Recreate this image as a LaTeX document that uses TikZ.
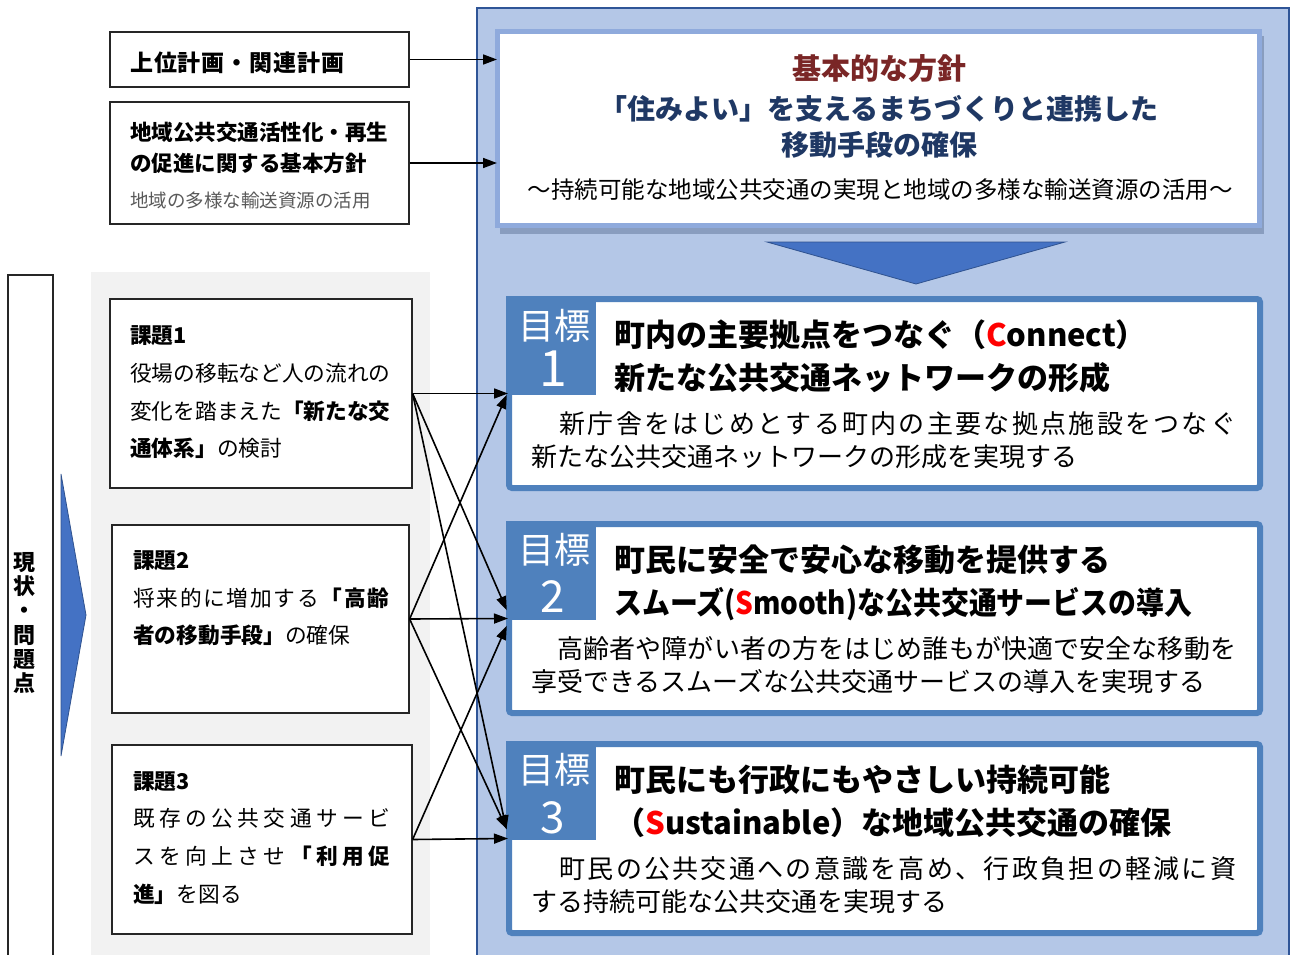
\documentclass[tikz,border=0pt]{standalone}
\usepackage{fontspec}
\setmainfont{Noto Sans CJK JP}
\usetikzlibrary{arrows.meta}
\definecolor{panelfill}{RGB}{180,199,231}
\definecolor{panelline}{RGB}{47,85,151}
\definecolor{goalblue}{RGB}{79,129,189}
\definecolor{polline}{RGB}{143,170,220}
\definecolor{shadowc}{RGB}{120,140,175}
\definecolor{triblue}{RGB}{68,114,196}
\definecolor{triline}{RGB}{47,82,143}
\definecolor{bggray}{RGB}{242,242,242}
\definecolor{maroon}{RGB}{122,38,38}
\definecolor{navy}{RGB}{31,56,100}
\definecolor{subgray}{RGB}{89,89,89}
\newcommand\fs[1]{\fontsize{#1}{#1}\selectfont}
\newcommand\fsb[2]{\fontsize{#1}{#2}\selectfont}
\makeatletter
\def\jl@loop#1{%
  \ifx#1\relax \let\jl@next\relax
  \else
    \ifx#1\bfseries \bfseries \else \jl@sep #1\let\jl@sep\hfil \fi
    \let\jl@next\jl@loop
  \fi
  \jl@next}
\newcommand\jl[2]{\makebox[#1pt][s]{\let\jl@sep\relax\jl@loop#2\relax}}
\makeatother
\begin{document}
\begin{tikzpicture}[x=1pt,y=-1pt,
  box/.style={draw=black!85, line width=1.2pt, fill=white, inner sep=0},
  goal/.style={draw=goalblue, line width=6pt, fill=white, rounded corners=3pt, inner sep=0, minimum width=751pt, minimum height=189pt},
  txt/.style={anchor=base west, inner sep=0},
  ctxt/.style={anchor=base, inner sep=0},
  tabtxt/.style={anchor=base, inner sep=0, text=white},
  arr/.style={-{Triangle[length=14pt,width=10pt]}, line width=1.6pt, shorten >=-2pt},
  tri/.style={fill=triblue, draw=triline, line width=0.8pt}
]
\useasboundingbox (0,0) rectangle (1293,955);
\clip (0,0) rectangle (1293,955);

% background panel
\draw[fill=panelfill, draw=panelline, line width=2.5pt] (477,8) rectangle (1289,980);
% gray background for issues
\fill[bggray] (91,272) rectangle (430,980);
% left vertical box
\draw[black!85, line width=1.2pt, fill=white] (8,275) rectangle (53,980);
\node[inner sep=0, align=center, font=\fsb{22}{24.2}\bfseries] (status) at (24.5,623) {現\\状\\・\\問\\題\\点};
% right-pointing triangle
\draw[tri] (61,474) -- (86,615) -- (61,756) -- cycle;

% top-left boxes
\node[box, minimum width=299pt, minimum height=55pt] (plan) at (259.5,59.5) {};
\node[txt, font=\fs{23}\bfseries] (plant) at (130,71.7) {\jl{214}{上位計画・関連計画}};
\node[box, minimum width=299pt, minimum height=122pt] (basic) at (259.5,163) {};
\node[txt, font=\fs{21.5}\bfseries] (basica) at (130,140.2) {地域公共交通活性化・再生};
\node[txt, font=\fs{21.5}\bfseries] (basicb) at (130,171.2) {の促進に関する基本方針};
\node[txt, font=\fs{18.5}, text=subgray] (basicc) at (130,207) {地域の多様な輸送資源の活用};

% policy box
\fill[shadowc, opacity=0.7] (500,36) rectangle (1264,234);
\node[draw=polline, line width=5pt, fill=white, inner sep=0, minimum width=762pt, minimum height=193pt] (policy) at (878.5,128.5) {};
\node[ctxt, font=\fs{29}\bfseries, text=maroon] (pola) at (879,80) {基本的な方針};
\node[ctxt, font=\fs{28}\bfseries, text=navy] (polb) at (879,119.6) {「住みよい」を支えるまちづくりと連携した};
\node[ctxt, font=\fs{28}\bfseries, text=navy] (polc) at (879,155.6) {移動手段の確保};
\node[ctxt, font=\fs{23.5}] (pold) at (880,198) {～持続可能な地域公共交通の実現と地域の多様な輸送資源の活用～};

% down triangle
\draw[tri] (767,242) -- (1065,242) -- (916,284) -- cycle;

% issue boxes
\node[box, minimum width=302pt, minimum height=189pt] (issue1) at (261,393.5) {};
\node[txt, font=\fs{21.7}\bfseries] (i1a) at (130,343.3) {課題1};
\node[txt, font=\fs{21.7}] (i1b) at (130,381.3) {\jl{260}{役場の移転など人の流れの}};
\node[txt, font=\fs{21.7}] (i1c) at (130,419.3) {\jl{260}{変化を踏まえた\bfseries 「新たな交}};
\node[txt, font=\fs{21.7}] (i1d) at (130,456.3) {{\bfseries 通体系」}の検討};

\node[box, minimum width=297pt, minimum height=188pt] (issue2) at (260.5,619) {};
\node[txt, font=\fs{21.7}\bfseries] (i2a) at (133,568.3) {課題2};
\node[txt, font=\fs{21.7}] (i2b) at (133,606.3) {\jl{256}{将来的に増加する\bfseries 「高齢}};
\node[txt, font=\fs{21.7}] (i2c) at (133,643.3) {{\bfseries 者の移動手段」}の確保};

\node[box, minimum width=300pt, minimum height=189pt] (issue3) at (262,839.5) {};
\node[txt, font=\fs{21.7}\bfseries] (i3a) at (133,789.3) {課題3};
\node[txt, font=\fs{21.7}] (i3b) at (133,826.3) {\jl{257}{既存の公共交通サービ}};
\node[txt, font=\fs{21.7}] (i3c) at (133,864.3) {\jl{257}{スを向上させ\bfseries 「利用促}};
\node[txt, font=\fs{21.7}] (i3d) at (133,902.3) {{\bfseries 進」}を図る};

% goal boxes
\node[goal] (goal1) at (884.5,393.5) {};
\fill[goalblue] (goal1.north west) rectangle ++(90,99);
\node[tabtxt, font=\fs{36}] (g1tab) at (554,339) {目標};
\node[tabtxt, font=\fs{50}] (g1num) at (553,386) {1};
\node[txt, font=\fs{31}\bfseries] (g1a) at (614,346.8) {町内の主要拠点をつなぐ（\textcolor{red}{C}onnect）};
\node[txt, font=\fs{31}\bfseries] (g1b) at (614,389.8) {新たな公共交通ネットワークの形成};
\node[txt, font=\fs{26}] (g1c) at (531,433.9) {\jl{705}{　新庁舎をはじめとする町内の主要な拠点施設をつなぐ}};
\node[txt, font=\fs{26}] (g1d) at (531,466.9) {新たな公共交通ネットワークの形成を実現する};

\node[goal] (goal2) at (884.5,618.5) {};
\fill[goalblue] (goal2.north west) rectangle ++(90,99);
\node[tabtxt, font=\fs{36}] (g2tab) at (554,563) {目標};
\node[tabtxt, font=\fs{44}] (g2num) at (553,612) {2};
\node[txt, font=\fs{31}\bfseries] (g2a) at (614,571.8) {町民に安全で安心な移動を提供する};
\node[txt, font=\fs{31}\bfseries] (g2b) at (614,614.8) {\scalebox{0.9}[1]{スムーズ(\textcolor{red}{S}mooth)な公共交通サービスの導入}};
\node[txt, font=\fs{26}] (g2c) at (531,658.9) {\jl{705}{　高齢者や障がい者の方をはじめ誰もが快適で安全な移動を}};
\node[txt, font=\fs{26}] (g2d) at (531,691.9) {享受できるスムーズな公共交通サービスの導入を実現する};

\node[goal] (goal3) at (884.5,838.5) {};
\fill[goalblue] (goal3.north west) rectangle ++(90,99);
\node[tabtxt, font=\fs{36}] (g3tab) at (554,783) {目標};
\node[tabtxt, font=\fs{44}] (g3num) at (553,833) {3};
\node[txt, font=\fs{31}\bfseries] (g3a) at (614,791.8) {町民にも行政にもやさしい持続可能};
\node[txt, font=\fs{31}\bfseries] (g3b) at (614,834.8) {（\textcolor{red}{S}ustainable）な地域公共交通の確保};
\node[txt, font=\fs{26}] (g3c) at (531,878.9) {\jl{705}{　町民の公共交通への意識を高め、行政負担の軽減に資}};
\node[txt, font=\fs{26}] (g3d) at (531,911.9) {する持続可能な公共交通を実現する};

% connectors
\draw[arr] (plan.east) -- (plan.east -| policy.west);
\draw[arr] (basic.east) -- (basic.east -| policy.west);

\draw[arr] (issue1.east) -- (goal1.west);
\draw[arr] (issue1.east) -- ([yshift=10pt]goal2.west);
\draw[arr] (issue1.east) -- ([yshift=11pt]goal3.west);
\draw[arr] (issue2.east) -- ([yshift=-3pt]goal1.west);
\draw[arr] (issue2.east) -- (goal2.west);
\draw[arr] (issue2.east) -- ([yshift=11pt]goal3.west);
\draw[arr] (issue3.east) -- ([yshift=-9pt]goal2.west);
\draw[arr] (issue3.east) -- (goal3.west);
\end{tikzpicture}
\end{document}
